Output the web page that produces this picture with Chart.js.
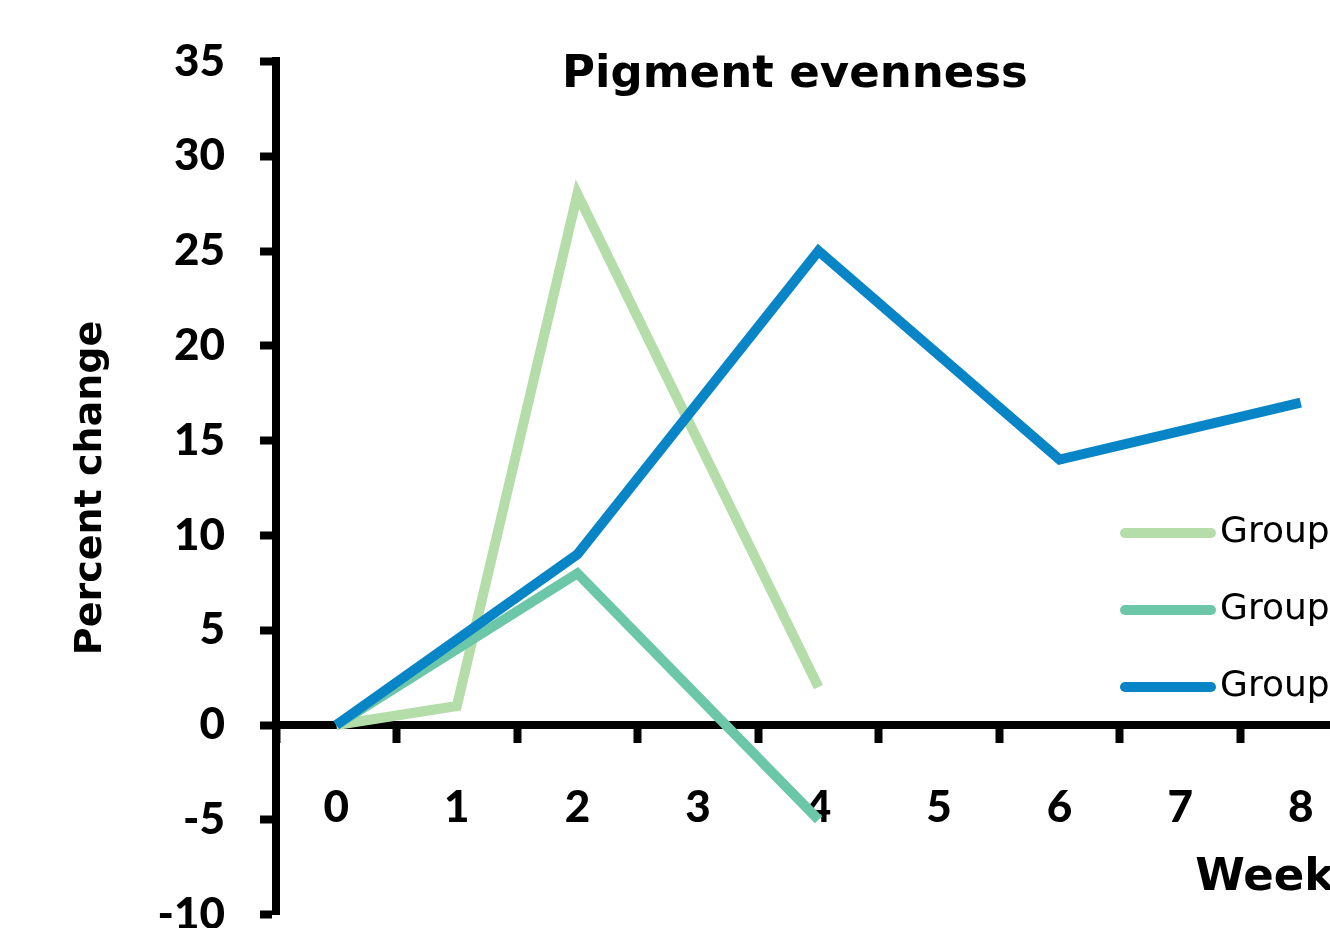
<!DOCTYPE html>
<html>
<head>
<meta charset="utf-8">
<title>Pigment evenness</title>
<script src="https://cdn.jsdelivr.net/npm/chart.js@4/dist/chart.umd.min.js"></script>
<style>
  html, body { margin: 0; padding: 0; background: #fff; }
  #frame { width: 1330px; height: 928px; overflow: hidden; position: relative; background: #fff; }
  #chart { display: block; }
</style>
</head>
<body>
<div id="frame"><canvas id="chart" width="1460" height="976"></canvas></div>
<script>
// Weeks on the horizontal axis
const weeks = ['0', '1', '2', '3', '4', '5', '6', '7', '8'];

// Percent change per group (null = not measured that week)
const group1 = [0, 1, 28, null, 2, null, null, null, null];
const group2 = [0, null, 8, null, -5, null, null, null, null];
const group3 = [0, null, 9, null, 25, null, 14, null, 17];

const seriesNames = ['Group 1', 'Group 2', 'Group 3'];
const seriesColors = ['#b4ddaa', '#6cc6a8', '#0885c6'];

// Vertical axis range and step
const yMin = -10;
const yMax = 35;
const yStep = 5;

const NUM_FONT = 'Lato, "Open Sans", sans-serif';
const WORD_FONT = '"DejaVu Sans", Verdana, sans-serif';

// Chart heading drawn over the plot area
const headingPlugin = {
  id: 'heading',
  afterDraw(chart) {
    const ctx = chart.ctx;
    ctx.save();
    ctx.fillStyle = '#000';
    ctx.font = 'bold 45px ' + WORD_FONT;
    ctx.textAlign = 'center';
    ctx.textBaseline = 'alphabetic';
    ctx.fillText('Pigment evenness', 795, 87);
    ctx.restore();
  }
};

// Legend drawn inside the plot, one row per series
const insideLegend = {
  id: 'insideLegend',
  afterDatasetsDraw(chart) {
    const ctx = chart.ctx;
    const x1 = 1125, x2 = 1211, top = 533, gap = 77;
    ctx.save();
    chart.data.datasets.forEach((ds, i) => {
      const y = top + gap * i;
      ctx.strokeStyle = ds.borderColor;
      ctx.lineWidth = 10;
      ctx.lineCap = 'round';
      ctx.beginPath();
      ctx.moveTo(x1, y);
      ctx.lineTo(x2, y);
      ctx.stroke();
      ctx.fillStyle = '#000';
      ctx.font = '36px ' + WORD_FONT;
      ctx.textAlign = 'left';
      ctx.textBaseline = 'middle';
      ctx.fillText(ds.label, 1220, y);
    });
    ctx.restore();
  }
};

const makeSet = (label, data, color, order) => ({
  label, data,
  borderColor: color,
  backgroundColor: color,
  borderWidth: 10,
  pointRadius: 0,
  pointHoverRadius: 0,
  tension: 0,
  spanGaps: true,
  fill: false,
  order
});

new Chart(document.getElementById('chart'), {
  type: 'line',
  data: {
    labels: weeks,
    datasets: [
      makeSet(seriesNames[0], group1, seriesColors[0], 3),
      makeSet(seriesNames[1], group2, seriesColors[1], 2),
      makeSet(seriesNames[2], group3, seriesColors[2], 1)
    ]
  },
  options: {
    responsive: false,
    animation: false,
    devicePixelRatio: 1,
    layout: { padding: { left: 0, top: 58, right: 99, bottom: 0 } },
    plugins: {
      legend: { display: false },
      title: { display: false },
      tooltip: { enabled: false }
    },
    scales: {
      x: {
        type: 'category',
        position: { y: 0 },
        offset: true,
        grid: {
          offset: true,
          drawOnChartArea: false,
          drawTicks: true,
          tickLength: 14,
          tickWidth: 8,
          tickColor: '#000'
        },
        border: { display: true, width: 8, color: '#000' },
        ticks: {
          color: '#000',
          padding: 42,
          maxRotation: 0,
          autoSkip: false,
          font: { family: NUM_FONT, size: 44, weight: '900' }
        },
        title: {
          display: true,
          text: 'Weeks',
          align: 'end',
          color: '#000',
          padding: { top: 0, bottom: 0 },
          font: { family: WORD_FONT, size: 45, weight: 'bold' }
        },
        afterFit(scale) { scale.height = 180; }
      },
      y: {
        type: 'linear',
        position: 'left',
        min: yMin,
        max: yMax,
        grid: {
          drawOnChartArea: false,
          drawTicks: true,
          tickLength: 16,
          tickWidth: 8,
          tickColor: '#000'
        },
        border: { display: true, width: 8, color: '#000' },
        ticks: {
          stepSize: yStep,
          color: '#000',
          padding: 35,
          font: { family: NUM_FONT, size: 44, weight: '900' }
        },
        title: {
          display: true,
          text: 'Percent change',
          color: '#000',
          padding: { top: 68, bottom: 0 },
          font: { family: WORD_FONT, size: 38, weight: 'bold' }
        },
        afterFit(scale) { scale.width = 276; }
      }
    }
  },
  plugins: [headingPlugin, insideLegend]
});
</script>
</body>
</html>
